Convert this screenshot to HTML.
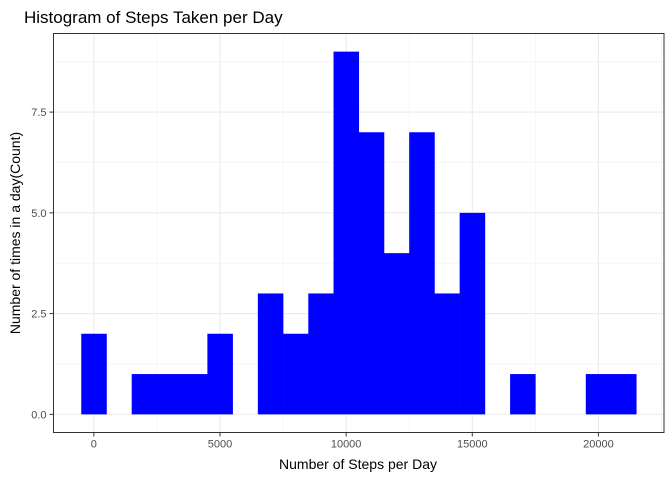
<!DOCTYPE html>
<html><head><meta charset="utf-8"><style>
body{margin:0;background:#fff;font-family:"Liberation Sans",Arial,sans-serif}
</style></head><body>
<svg width="672" height="480" xmlns="http://www.w3.org/2000/svg" font-family="Liberation Sans, Arial, sans-serif">
<text x="24" y="23" font-size="17" fill="#000">Histogram of Steps Taken per Day</text>
<g id="grid"></g>
<g id="bars"></g>
<rect x="53.5" y="33.5" width="610.5" height="399" fill="none" stroke="#333" stroke-width="1"/>
<g id="axes"></g>
<text x="358" y="469" font-size="14" text-anchor="middle" fill="#000">Number of Steps per Day</text>
<text transform="translate(20,233) rotate(-90)" font-size="14" text-anchor="middle" fill="#000">Number of times in a day(Count)</text>
</svg>
<script>
const binCenters=[0,1000,2000,3000,4000,5000,6000,7000,8000,9000,10000,11000,12000,13000,14000,15000,16000,17000,18000,19000,20000,21000];
const counts=[2,0,1,1,1,2,0,3,2,3,9,7,4,7,3,5,0,1,0,0,1,1];
const binWidth=1000;
const xTicks=[0,5000,10000,15000,20000];
const xTickLabels=["0","5000","10000","15000","20000"];
const yTicks=[0,2.5,5,7.5];
const yTickLabels=["0.0","2.5","5.0","7.5"];
const NS="http://www.w3.org/2000/svg";
const L=53.5,R=664,T=33.5,B=432.5;
const xMin=-1600,xMax=22600,yMin=-0.45,yMax=9.45;
const sx=v=>L+(v-xMin)/(xMax-xMin)*(R-L);
const sy=v=>B-(v-yMin)/(yMax-yMin)*(B-T);
function mk(tag,attrs,parent){const e=document.createElementNS(NS,tag);for(const k in attrs)e.setAttribute(k,attrs[k]);parent.appendChild(e);return e;}
const grid=document.getElementById('grid'),bars=document.getElementById('bars'),axes=document.getElementById('axes');
for(let i=0;i<xTicks.length+1;i++){const v=xTicks[0]+(i-0.5)*(xTicks[1]-xTicks[0]);const x=sx(v);if(x>L&&x<R){const g=mk('line',{x1:x,x2:x,y1:T,y2:B,stroke:'#f0f0f0','stroke-width':0.6},grid);}}
for(let i=0;i<yTicks.length+1;i++){const v=yTicks[0]+(i-0.5)*(yTicks[1]-yTicks[0]);const y=sy(v);if(y>T&&y<B){const g=mk('line',{x1:L,x2:R,y1:y,y2:y,stroke:'#f0f0f0','stroke-width':0.6},grid);}}
xTicks.forEach((v,i)=>{const x=sx(v);
const g=mk('line',{x1:x,x2:x,y1:T,y2:B,stroke:'#ebebeb','stroke-width':1.1},grid);

const t=mk('line',{x1:x,x2:x,y1:B,y2:B+4,stroke:'#333'},axes);

const l=mk('text',{x:x,y:B+15,'font-size':11,'text-anchor':'middle',fill:'#4d4d4d'},axes);l.textContent=xTickLabels[i];
});
yTicks.forEach((v,i)=>{const y=sy(v);
const g=mk('line',{x1:L,x2:R,y1:y,y2:y,stroke:'#ebebeb','stroke-width':1.1},grid);

const t=mk('line',{x1:L-4,x2:L,y1:y,y2:y,stroke:'#333'},axes);

const l=mk('text',{x:L-7,y:y+4,'font-size':11,'text-anchor':'end',fill:'#4d4d4d'},axes);l.textContent=yTickLabels[i];
});
binCenters.forEach((c,i)=>{if(counts[i]<=0)return;const x0=sx(c-binWidth/2),x1=sx(c+binWidth/2);
const r=mk('rect',{x:x0,y:sy(counts[i]),width:x1-x0+0.3,height:sy(0)-sy(counts[i]),fill:'#0000ff'},bars);
});
</script>
</body></html>
